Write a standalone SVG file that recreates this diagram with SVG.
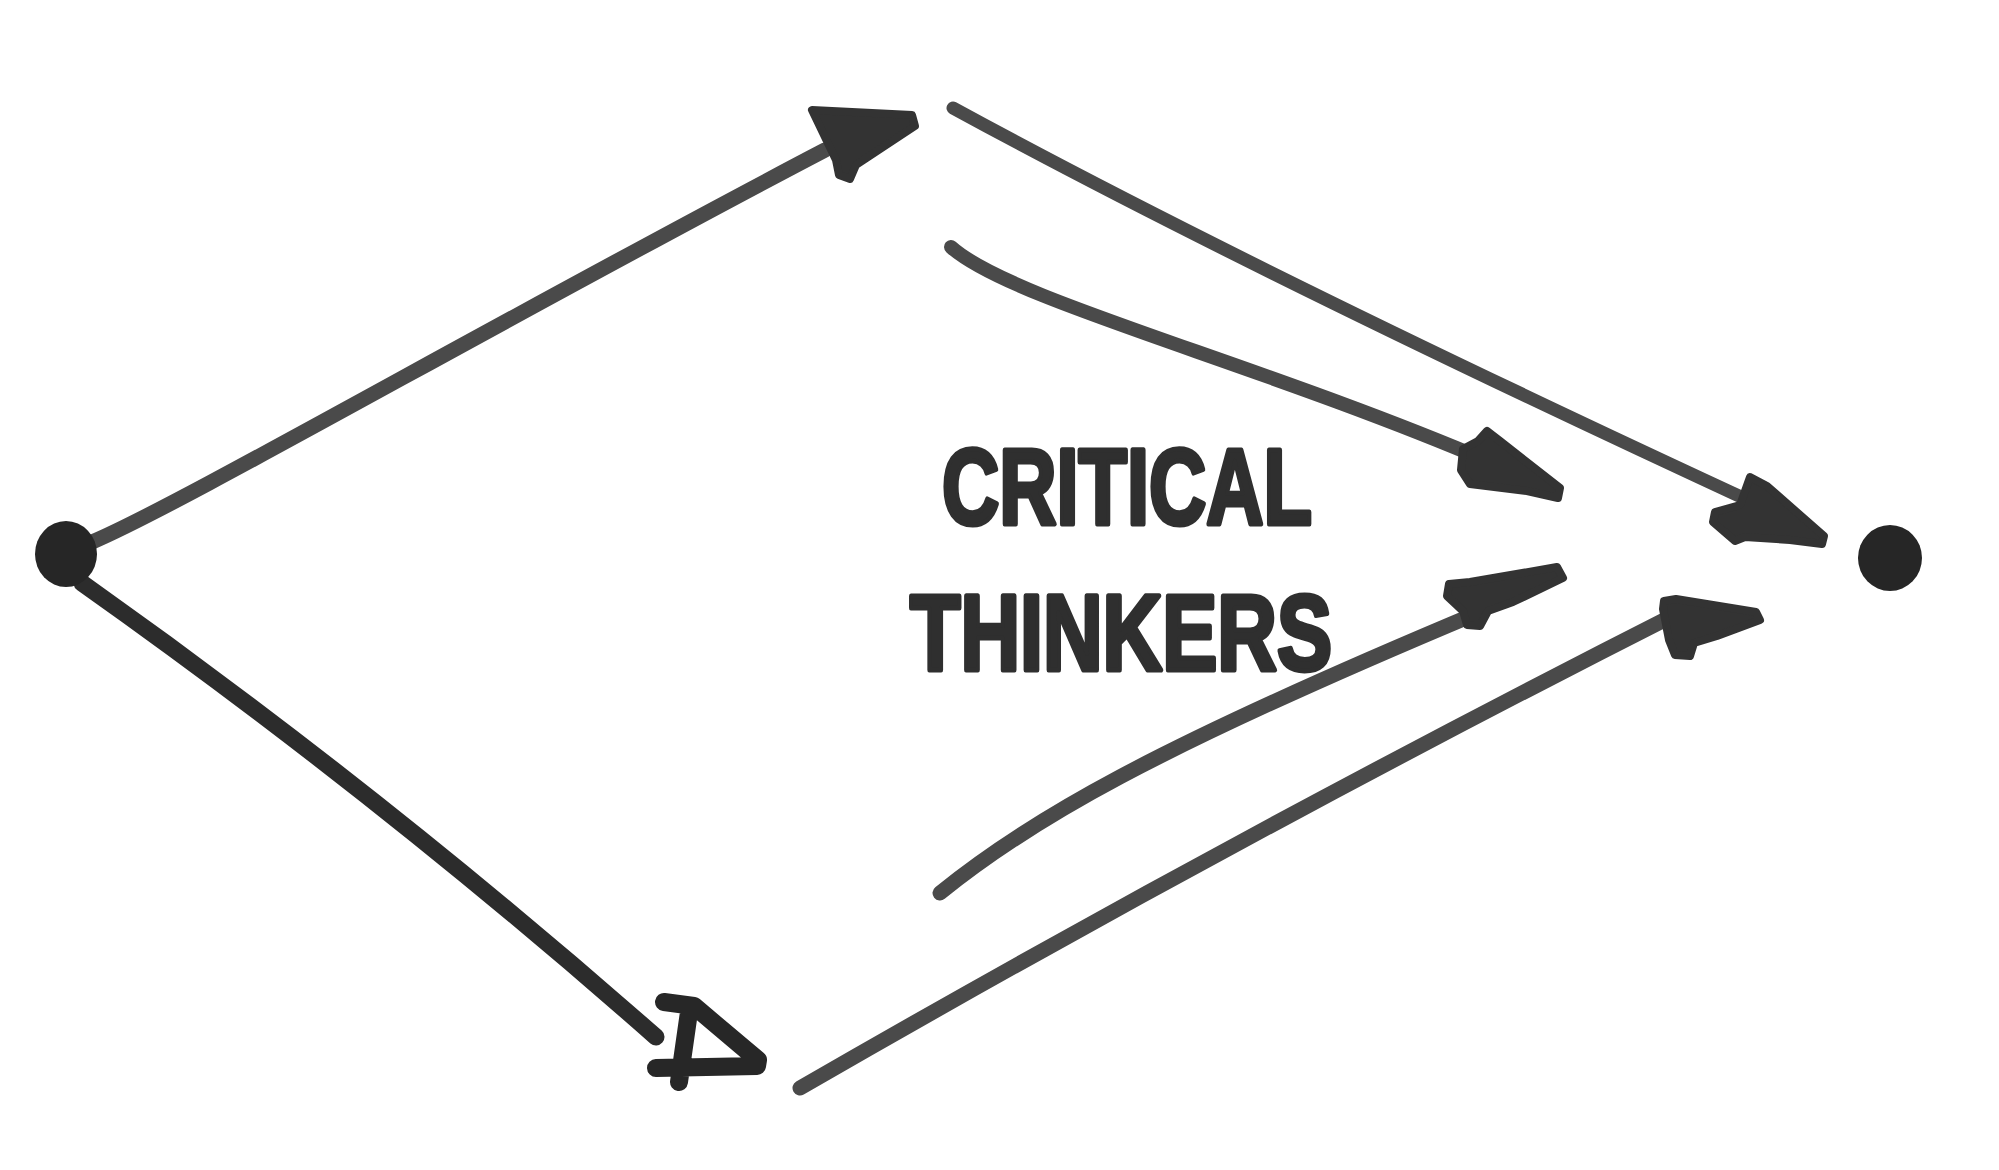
<svg xmlns="http://www.w3.org/2000/svg" width="1999" height="1170" viewBox="0 0 1999 1170">
<style>
.bg{fill:#ffffff}
.ln{fill:none;stroke:#4a4a4a;stroke-linecap:round;stroke-linejoin:round}
.dk{stroke:#2c2c2c}
.head{fill:#333333;stroke:#333333;stroke-width:8;stroke-linejoin:round}
.hollow{fill:none;stroke:#272727;stroke-width:18;stroke-linecap:round;stroke-linejoin:round}
.dot{fill:#262626}
.lbl{font-family:"Liberation Sans","DejaVu Sans",sans-serif;font-weight:bold;font-size:108px;fill:#2f2f2f;stroke:#2f2f2f;stroke-width:5;stroke-linejoin:round}
</style>
<rect class="bg" x="0" y="0" width="1999" height="1170"/>
<g id="connectors">
  <path class="ln" stroke-width="15" d="M92,542 C180,505 500,320 825,150"/>
  <polygon class="head" points="812,110 912,115 915,126 856,165 850,179 839,175 836,160"/>
  <path class="ln dk" stroke-width="17" d="M82,583 Q380,794 656,1037"/>
  <path class="hollow" d="M664,1002 L694,1006 L758,1060 L757,1066 L656,1068 M689,1012 L679,1082"/>
  <path class="ln" stroke-width="13" d="M953,108 Q1250,270 1765,508"/>
  <polygon class="head" points="1750,477 1767,486 1824,536 1822,544 1790,540 1745,537 1735,541 1713,522 1715,512 1740,505"/>
  <path class="ln" stroke-width="14" d="M951,247 C1010,300 1250,360 1490,462"/>
  <polygon class="head" points="1487,431 1500,441 1560,488 1558,498 1527,491 1470,484 1461,470 1463,449 1478,441"/>
  <path class="ln" stroke-width="15" d="M940,893 C1030,820 1150,750 1480,612"/>
  <polygon class="head" points="1449,584 1470,582 1557,567 1563,578 1513,602 1488,611 1480,626 1467,625 1463,611 1447,596"/>
  <path class="ln" stroke-width="15" d="M800,1088 Q1230,840 1680,612"/>
  <polygon class="head" points="1664,601 1676,599 1756,612 1760,620 1717,636 1694,643 1690,656 1675,655 1669,640 1663,609"/>
</g>
<g id="start-node">
  <ellipse class="dot" cx="66" cy="554" rx="31" ry="33"/>
</g>
<g id="end-node">
  <ellipse class="dot" cx="1890" cy="558" rx="32" ry="33"/>
</g>
<g id="label">
  <text class="lbl" x="942" y="524" textLength="370" lengthAdjust="spacingAndGlyphs">CRITICAL</text>
  <text class="lbl" x="910" y="670" textLength="422" lengthAdjust="spacingAndGlyphs">THINKERS</text>
</g>
</svg>
